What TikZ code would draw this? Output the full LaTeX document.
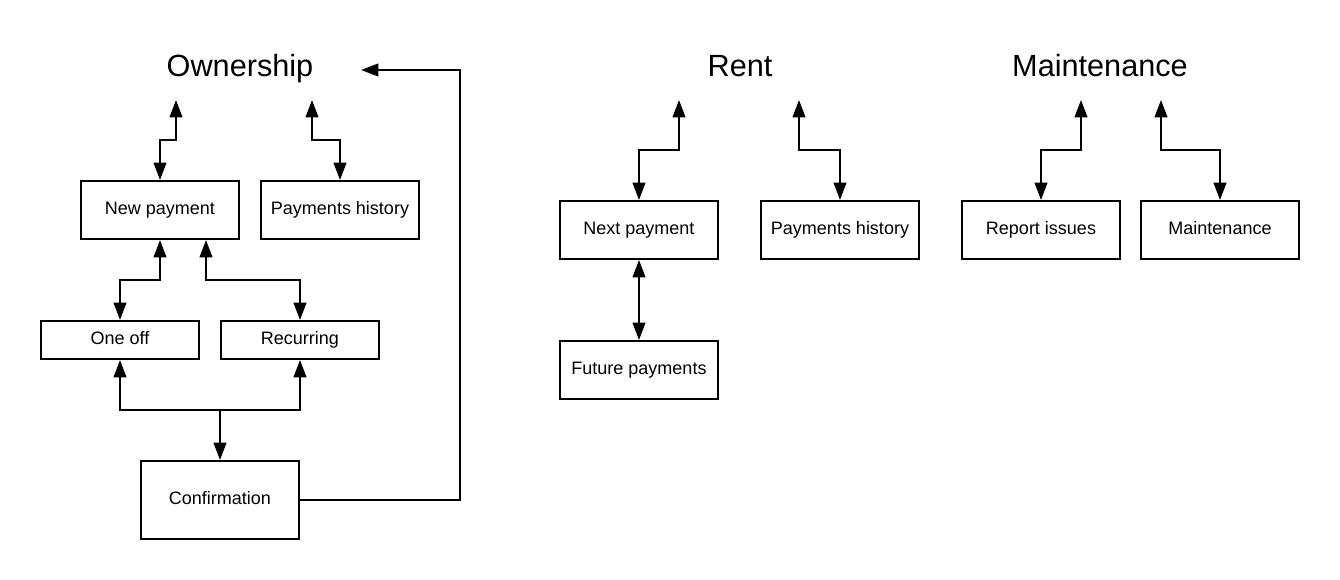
\documentclass[tikz,border=0pt]{standalone}
\usepackage{fontspec}
\setmainfont{Liberation Sans}
\usetikzlibrary{arrows.meta}

\begin{document}
\begin{tikzpicture}[x=0.75pt, y=-0.75pt, line width=1.5pt, >={Triangle[length=13pt,width=9.5pt]}]
      \tikzset{box/.style={draw, rectangle, inner sep=0pt, minimum width=118.5pt, minimum height=43.5pt, text height=10pt, text depth=3pt, font=\fontsize{13.5}{16}\selectfont},
               title/.style={text height=17pt, text depth=5pt, font=\fontsize{23}{28}\selectfont}}
      \useasboundingbox (0,0) rectangle (1340,580);
%% Titles
      \node[title] (own) at (240,69) {Ownership};
      \node[title] (rent) at (740,69) {Rent};
      \node[title] (maint) at (1100,69) {Maintenance};
%% Free ends under the titles
      \coordinate (own1) at (176,100);
      \coordinate (own2) at (312,100);
      \coordinate (ownback) at (361,70);
      \coordinate (rent1) at (679,100);
      \coordinate (rent2) at (799,100);
      \coordinate (maint1) at (1081,100);
      \coordinate (maint2) at (1161,100);
%% Ownership boxes
      \node[box] (newpay) at (160,210) {New payment};
      \node[box] (ownhist) at (340,210) {Payments history};
      \node[box, minimum height=28.5pt] (oneoff) at (120,340) {One off};
      \node[box, minimum height=28.5pt] (recur) at (300,340) {Recurring};
      \node[box, minimum height=58.5pt] (confirm) at (220,500) {Confirmation};
%% Rent boxes
      \node[box] (nextpay) at (639,230) {Next payment};
      \node[box] (renthist) at (840,230) {Payments history};
      \node[box] (future) at (639,370) {Future payments};
%% Maintenance boxes
      \node[box] (report) at (1041,230) {Report issues};
      \node[box] (maintbox) at (1220,230) {Maintenance};
%% Ownership links
      \draw[<->] (own1) |- (160,140) -- (newpay.north);
      \draw[<->] (own2) |- (340,140) -- (ownhist.north);
      \draw[<->] (newpay.south) |- (120,280) -- (oneoff.north);
      \draw[<->] ([xshift=34.5pt]newpay.south) |- (300,280) -- (recur.north);
      \draw[<->] (oneoff.south) |- (300,410) -- (recur.south);
      \draw[->] (220,410) -- (confirm.north);
      \draw[->] (confirm.east) -| (460,70) -- (ownback);
%% Rent links
      \draw[<->] (rent1) |- (639,150) -- (nextpay.north);
      \draw[<->] (rent2) |- (840,150) -- (renthist.north);
      \draw[<->] (nextpay.south) -- (future.north);
%% Maintenance links
      \draw[<->] (maint1) |- (1041,150) -- (report.north);
      \draw[<->] (maint2) |- (1220,150) -- (maintbox.north);
\end{tikzpicture}
\end{document}
